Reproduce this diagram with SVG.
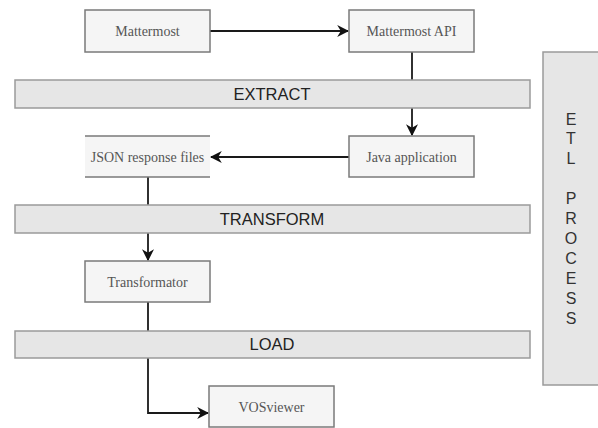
<svg xmlns="http://www.w3.org/2000/svg" width="598" height="428" viewBox="0 0 598 428">
<style>
.node{fill:#f5f5f5;stroke:#7a7a7a;stroke-width:1.5}
.bar{fill:#e6e6e6;stroke:#9a9a9a;stroke-width:1.5}
.nt{font-family:"Liberation Serif",serif;font-size:14px;fill:#555;text-anchor:middle;dominant-baseline:central}
.bt{font-family:"Liberation Sans",Arial,sans-serif;font-size:16.5px;fill:#222;text-anchor:middle;dominant-baseline:central}
.et{font-family:"Liberation Sans",Arial,sans-serif;font-size:16px;fill:#333;text-anchor:middle}
.edge{fill:none;stroke:#1a1a1a;stroke-width:1.8}
</style>
<defs>
<marker id="arr" viewBox="0 0 10 10" refX="9" refY="5" markerWidth="12" markerHeight="12" markerUnits="userSpaceOnUse" orient="auto">
<path d="M0,0 L10,5 L0,10 L3,5 Z" fill="#111"/>
</marker>
</defs>
<rect width="598" height="428" fill="#ffffff"/>
<g id="connectors">
<path class="edge" d="M210,31 H348" marker-end="url(#arr)"/>
<path class="edge" d="M412,52 V135" marker-end="url(#arr)"/>
<path class="edge" d="M349,157 H211" marker-end="url(#arr)"/>
<path class="edge" d="M148,177 V260" marker-end="url(#arr)"/>
<path class="edge" d="M148,302 V413 H208" marker-end="url(#arr)"/>
</g>
<g id="etl-process">
<rect x="543" y="52" width="60" height="333" class="bar"/>
<text class="et" x="571"><tspan x="571" y="125">E</tspan><tspan x="571" y="144">T</tspan><tspan x="571" y="164">L</tspan><tspan x="571" y="204">P</tspan><tspan x="571" y="224">R</tspan><tspan x="571" y="244">O</tspan><tspan x="571" y="264">C</tspan><tspan x="571" y="284">E</tspan><tspan x="571" y="304">S</tspan><tspan x="571" y="324">S</tspan></text>
</g>
<g id="extract">
<rect x="15" y="80" width="515" height="28" class="bar"/>
<text class="bt" x="272" y="94">EXTRACT</text>
</g>
<g id="transform">
<rect x="15" y="205" width="515" height="28" class="bar"/>
<text class="bt" x="272" y="219">TRANSFORM</text>
</g>
<g id="load">
<rect x="15" y="331" width="515" height="27" class="bar"/>
<text class="bt" x="272" y="344">LOAD</text>
</g>
<g id="mattermost">
<rect x="85" y="10" width="125" height="42" class="node"/>
<text class="nt" x="147.5" y="31">Mattermost</text>
</g>
<g id="mattermost-api">
<rect x="349" y="10" width="125" height="42" class="node"/>
<text class="nt" x="411.5" y="31">Mattermost API</text>
</g>
<g id="java-application">
<rect x="349" y="136" width="125" height="41" class="node"/>
<text class="nt" x="411.5" y="157">Java application</text>
</g>
<g id="json-response-files">
<rect x="85" y="136" width="125" height="41" fill="#f5f5f5"/>
<path d="M85,136 H210 M85,177 H210" stroke="#7a7a7a" stroke-width="1.5" fill="none"/>
<text class="nt" x="147.5" y="157">JSON response files</text>
</g>
<g id="transformator">
<rect x="85" y="261" width="125" height="41" class="node"/>
<text class="nt" x="147.5" y="282">Transformator</text>
</g>
<g id="vosviewer">
<rect x="209" y="386" width="125" height="41" class="node"/>
<text class="nt" x="271.5" y="407">VOSviewer</text>
</g>
</svg>
